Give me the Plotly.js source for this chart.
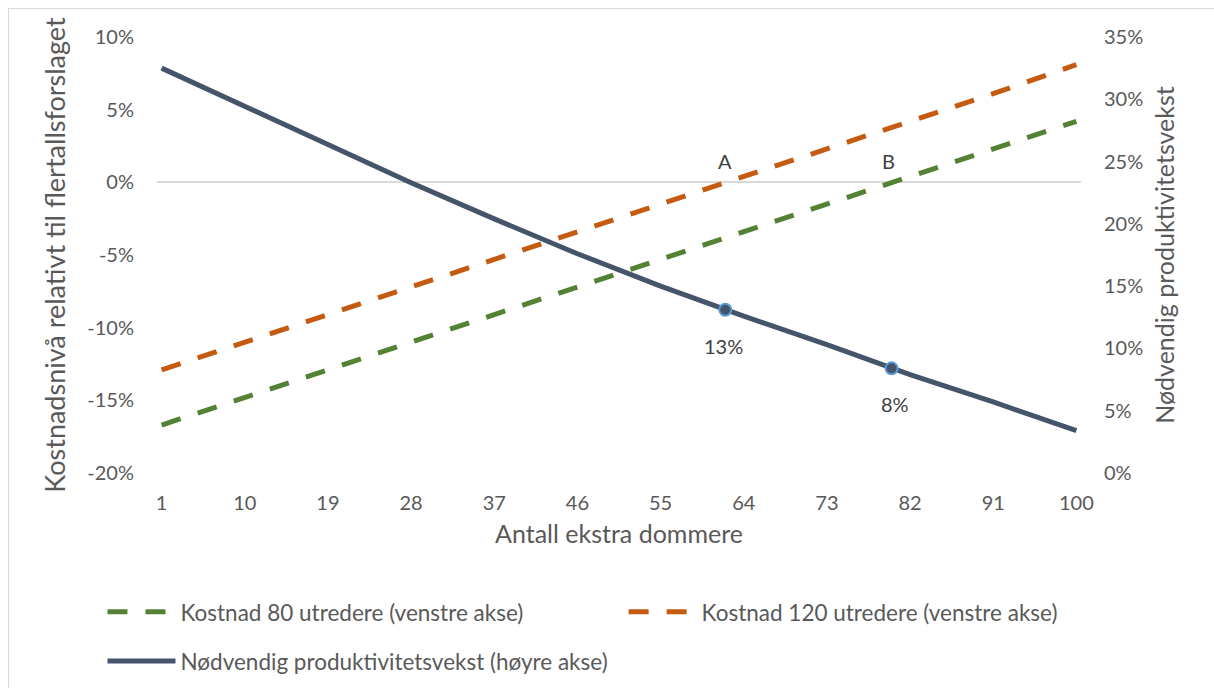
<!DOCTYPE html>
<html>
<head>
<meta charset="utf-8">
<script src="https://cdn.plot.ly/plotly-3.0.1.min.js"></script>
<style>
html,body{margin:0;padding:0;background:#fff;overflow:hidden;width:1214px;height:688px;}
#frame{position:absolute;left:8px;top:8px;width:1300px;height:800px;border:1.5px solid #D9D9D9;box-sizing:border-box;}
#chart{position:absolute;left:0;top:0;width:1214px;height:688px;}
</style>
</head>
<body>
<div id="frame"></div>
<div id="chart"></div>
<script>
// Data (percent values)
const xVals = [1, 10, 19, 28, 37, 46, 55, 62, 64, 73, 80, 82, 91, 100];
const cost80 = [-16.7, -14.8, -12.9, -11.0, -9.1, -7.2, -5.3, -3.8, -3.4, -1.5, 0.0, 0.4, 2.3, 4.2];
const cost120 = [-12.9, -11.0, -9.1, -7.2, -5.3, -3.4, -1.5, 0.0, 0.4, 2.3, 3.8, 4.2, 6.1, 8.1];
const growth = [32.5, 29.4, 26.3, 23.3, 20.4, 17.6, 15.0, 13.1, 12.6, 10.3, 8.4, 7.9, 5.7, 3.4];
const markX = [62, 80];
const markY = [13.1, 8.4];
const markLabels = ['13%', '8%'];
const pointLabels = ['A', 'B'];
const pointX = [62, 80];
const pointY = [0, 0];
const xTicks = [1, 10, 19, 28, 37, 46, 55, 64, 73, 82, 91, 100];
const leftTicks = [-20, -15, -10, -5, 0, 5, 10];
const rightTicks = [0, 5, 10, 15, 20, 25, 30, 35];
const names = ['Kostnad 80 utredere (venstre akse)', 'Kostnad 120 utredere (venstre akse)', 'Nødvendig produktivitetsvekst (høyre akse)'];

const FONT = 'Lato, "Open Sans", sans-serif';
const TXT = '#595959';

const traces = [
  {x: xVals, y: cost80, name: names[0], type: 'scatter', mode: 'lines', yaxis: 'y',
   legend: 'legend', legendgroup: 'g1',
   line: {color: '#548235', width: 5, dash: '20px,18px'}},
  {x: xVals, y: cost120, name: names[1], type: 'scatter', mode: 'lines', yaxis: 'y',
   legend: 'legend2', legendgroup: 'g2',
   line: {color: '#C55A11', width: 5, dash: '20px,18px'}},
  {x: xVals, y: growth, name: names[2], type: 'scatter', mode: 'lines', yaxis: 'y2',
   legend: 'legend', legendgroup: 'g3',
   line: {color: '#44546A', width: 5}},
  {x: markX, y: markY, type: 'scatter', mode: 'markers', yaxis: 'y2', showlegend: false, hoverinfo: 'skip',
   marker: {color: '#44546A', size: 12, line: {color: '#5B9BD5', width: 2}}}
];

const markShift = [-2, 3];
const pointShift = [0, -3];
const annotations = [];
markX.forEach((x, i) => annotations.push({x: x, y: markY[i], xref: 'x', yref: 'y2', text: markLabels[i],
  showarrow: false, yshift: -36, xshift: markShift[i], font: {family: FONT, size: 20, color: '#404040'}}));
pointX.forEach((x, i) => annotations.push({x: x, y: pointY[i], xref: 'x', yref: 'y', text: pointLabels[i],
  showarrow: false, yshift: 21, xshift: pointShift[i], font: {family: FONT, size: 20, color: '#404040'}}));

const legendCommon = {orientation: 'v', xanchor: 'left', yanchor: 'top', y: -0.27,
  itemwidth: 68, tracegroupgap: 17, traceorder: 'grouped', bgcolor: 'rgba(0,0,0,0)',
  font: {family: FONT, size: 22.5, color: TXT}};

const layout = {
  width: 1214, height: 688,
  paper_bgcolor: 'rgba(0,0,0,0)', plot_bgcolor: 'rgba(0,0,0,0)',
  margin: {l: 157, r: 133, t: 37, b: 215, autoexpand: false},
  font: {family: FONT, color: TXT, size: 20},
  showlegend: true,
  legend: Object.assign({}, legendCommon, {x: -0.059}),
  legend2: Object.assign({}, legendCommon, {x: 0.505}),
  xaxis: {range: [0.5, 100.5], tickmode: 'array', tickvals: xTicks, ticktext: xTicks.map(String),
    showgrid: false, zeroline: false, showline: false, ticks: '', ticklabelstandoff: 16,
    tickfont: {family: FONT, size: 20, color: TXT},
    title: {text: 'Antall ekstra dommere', font: {family: FONT, size: 25, color: TXT}, standoff: 12}},
  yaxis: {range: [-20, 10], tickmode: 'array', tickvals: leftTicks, ticktext: leftTicks.map(v => v + '%'),
    showgrid: false, zeroline: true, zerolinecolor: '#D9D9D9', zerolinewidth: 2, showline: false, ticks: '',
    ticklabelstandoff: 22, tickfont: {family: FONT, size: 20, color: TXT},
    title: {text: 'Kostnadsnivå relativt til flertallsforslaget', font: {family: FONT, size: 27, color: TXT}, standoff: 13}},
  yaxis2: {range: [0, 35], overlaying: 'y', side: 'right', tickmode: 'array', tickvals: rightTicks,
    ticktext: rightTicks.map(v => v + '%'), showgrid: false, zeroline: false, showline: false, ticks: '',
    ticklabelstandoff: 22, tickfont: {family: FONT, size: 20, color: TXT},
    title: {text: 'Nødvendig produktivitetsvekst', font: {family: FONT, size: 25, color: TXT}, standoff: 14}},
  annotations: annotations
};

Plotly.newPlot('chart', traces, layout, {displayModeBar: false, staticPlot: true});
</script>
</body>
</html>
